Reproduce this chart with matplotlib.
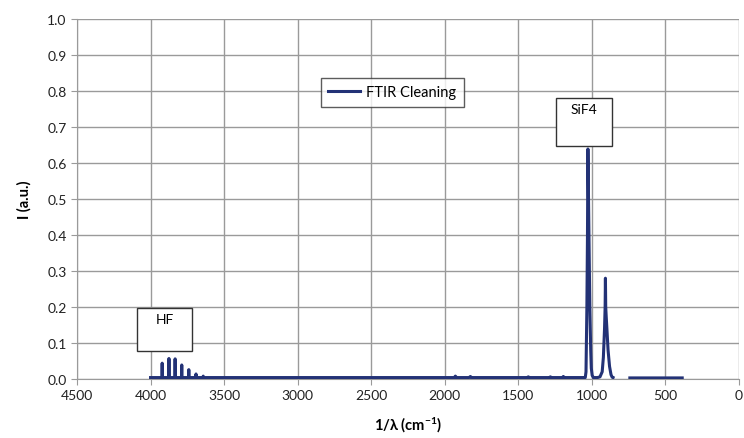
import numpy as np
import matplotlib
matplotlib.use("Agg")
import matplotlib.pyplot as plt
from matplotlib.patches import Rectangle

plt.rcParams["font.family"] = ["Lato", "DejaVu Sans"]
plt.rcParams["mathtext.default"] = "regular"

# spectrum (wavenumber in cm-1, intensity in a.u.)
# baseline + HF rotational lines
wn_hf = [4000, 3922, 3921, 3920, 3876, 3875, 3874, 3834, 3833, 3832,
         3789, 3788, 3787, 3741, 3740, 3739, 3692, 3691, 3690, 3643, 3642, 3641]
int_hf = [0.004, 0.004, 0.044, 0.004, 0.004, 0.057, 0.004, 0.004, 0.056, 0.004,
          0.004, 0.039, 0.004, 0.004, 0.026, 0.004, 0.004, 0.014, 0.004, 0.004, 0.008, 0.004]
# baseline with small bumps
wn_mid = [3500, 3000, 2500, 2000, 1935, 1928, 1920, 1835, 1826, 1818,
          1440, 1432, 1425, 1290, 1282, 1275, 1200, 1194, 1188, 1050]
int_mid = [0.004, 0.004, 0.004, 0.004, 0.004, 0.008, 0.004, 0.004, 0.007, 0.004,
           0.004, 0.006, 0.004, 0.004, 0.006, 0.004, 0.004, 0.007, 0.004, 0.004]
# SiF4 bands
wn_sif4 = [1045, 1040, 1034, 1030, 1027, 1024, 1020, 1014, 1008, 1004, 998, 990,
           962, 945, 930, 922, 914, 910, 908, 906, 903, 898, 890, 880, 870, 862, 856]
int_sif4 = [0.004, 0.02, 0.20, 0.40, 0.639, 0.54, 0.40, 0.20, 0.08, 0.03, 0.01, 0.004,
            0.004, 0.006, 0.02, 0.06, 0.14, 0.20, 0.28, 0.20, 0.176, 0.14, 0.08, 0.035, 0.012, 0.005, 0.004]
# tail after gap
wn_tail = [742, 600, 500, 386]
int_tail = [0.003, 0.003, 0.003, 0.003]

wn = wn_hf + wn_mid + wn_sif4 + [np.nan] + wn_tail
inten = int_hf + int_mid + int_sif4 + [np.nan] + int_tail

W, H = 744, 439
fig = plt.figure(figsize=(W / 100, H / 100), dpi=100)
ax = fig.add_axes([77 / W, 1 - 380 / H, (739 - 77) / W, (380 - 20) / H])

ax.plot(wn, inten, color="#233276", lw=2.2, label="FTIR Cleaning", zorder=3)

ax.set_xlim(4500, 0)
ax.set_ylim(0, 1.0)
ax.set_xticks(np.arange(4500, -1, -500))
ax.set_yticks(np.arange(0, 1.01, 0.1))
ax.set_yticklabels([f"{v:.1f}" for v in np.arange(0, 1.01, 0.1)])
ax.grid(True, color="#9a9a9a", lw=1)
ax.set_axisbelow(True)
for s in ["top", "right"]:
    ax.spines[s].set_visible(False)
for s in ["left", "bottom"]:
    ax.spines[s].set_color("#9a9a9a")
ax.tick_params(length=4, color="#9a9a9a", labelsize=10, labelcolor="#222222")

ax.set_ylabel("I (a.u.)", fontsize=10.5, fontweight="bold", labelpad=11)
ax.set_xlabel("1/λ (cm$^{-1}$)", fontsize=10.5, fontweight="bold", labelpad=10)


def box(x0, y0, x1, y1):
    fig.patches.append(Rectangle((x0 / W, 1 - y1 / H), (x1 - x0) / W, (y1 - y0) / H,
                                 transform=fig.transFigure, fc="white", ec="#333333",
                                 lw=1, zorder=5))


box(137, 309, 192, 352)
fig.text(164.5 / W, 1 - 320 / H, "HF", ha="center", va="center", fontsize=10, zorder=6)
box(556, 99, 612, 147)
fig.text(584 / W, 1 - 110 / H, "SiF4", ha="center", va="center", fontsize=10, zorder=6)

leg = ax.legend(loc="upper left", bbox_to_anchor=((321 - 77) / (739 - 77), 1 - (79 - 20) / 360),
                borderaxespad=0, frameon=True, fancybox=False, edgecolor="#333333",
                fontsize=10.5, handlelength=2.2, borderpad=0.5, handletextpad=0.4)
leg.get_frame().set_linewidth(1)

fig.savefig("out.png", dpi=100)
